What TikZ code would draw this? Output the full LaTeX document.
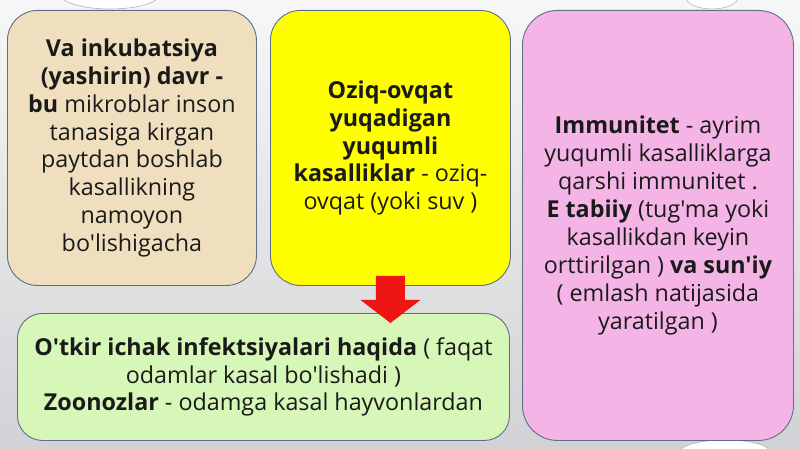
\documentclass[tikz,border=0pt]{standalone}
\usepackage{fontspec}
\setmainfont{Open Sans}[Ligatures=TeXOff]
\definecolor{beigefill}{HTML}{F0DFBE}
\definecolor{yellowfill}{HTML}{FFFF00}
\definecolor{pinkfill}{HTML}{F5B4E6}
\definecolor{greenfill}{HTML}{D6F7B8}
\definecolor{boxline}{HTML}{5E6E84}
\definecolor{txt}{HTML}{1A1A1A}
\definecolor{arrowred}{HTML}{EE1515}
\definecolor{bgtop}{HTML}{F7F7F8}
\definecolor{bgbot}{HTML}{D2D2D6}
\begin{document}
\begin{tikzpicture}[x=1pt,y=-1pt,
  card/.style={draw=boxline, line width=0.9pt, align=center, text=txt,
    font=\fontsize{23.3}{27.9}\selectfont, inner sep=0pt, anchor=north west},
  blob/.style={fill=white, draw=gray!60, line width=0.6pt}]
\useasboundingbox (0,0) rectangle (800,449);
\shade[top color=bgtop, bottom color=bgbot] (0,0) rectangle (800,449);
% background decorations
\path[blob] (110,-6) ellipse [x radius=50, y radius=15];
\path[blob] (712,-3) ellipse [x radius=26, y radius=12];
\path[blob] (725,452) ellipse [x radius=45, y radius=12];
% cards
\node[card, fill=beigefill, rounded corners=30pt, minimum width=249pt, minimum height=275pt] (inc) at (7,10)
 {\textbf{Va inkubatsiya}\\ \textbf{(yashirin) davr -}\\ \textbf{bu} mikroblar inson\\ tanasiga kirgan\\ paytdan boshlab\\ kasallikning\\ namoyon\\ bo'lishigacha};
\node[card, fill=yellowfill, rounded corners=30pt, minimum width=240pt, minimum height=275pt] (food) at (270,10)
 {\textbf{Oziq-ovqat}\\ \textbf{yuqadigan}\\ \textbf{yuqumli}\\ \textbf{kasalliklar} - oziq-\\ ovqat (yoki suv )};
\node[card, fill=pinkfill, rounded corners=35pt, minimum width=271pt, minimum height=430pt] (imm) at (522,10)
 {\textbf{Immunitet} - ayrim\\ yuqumli kasalliklarga\\ qarshi immunitet .\\ \textbf{E tabiiy} (tug'ma yoki\\ kasallikdan keyin\\ orttirilgan ) \textbf{va sun'iy}\\ ( emlash natijasida\\ yaratilgan )};
\node[card, fill=greenfill, rounded corners=25pt, minimum width=492pt, minimum height=127pt] (int) at (17,313)
 {\textbf{O'tkir ichak infektsiyalari haqida} ( faqat\\ odamlar kasal bo'lishadi )\\ \textbf{Zoonozlar} - odamga kasal hayvonlardan};
% block arrow from food to int
\coordinate (atop) at ([yshift=10pt]food.south);
\coordinate (atip) at ([yshift=-10pt]int.north -| food.south);
\fill[arrowred] ([xshift=-14.5pt]atop) -- ([xshift=14.5pt]atop)
  -- ([xshift=14.5pt,yshift=-24pt]atop) -- ([xshift=30pt,yshift=-24pt]atop)
  -- (atip) -- ([xshift=-30pt,yshift=-24pt]atop) -- ([xshift=-14.5pt,yshift=-24pt]atop) -- cycle;
\end{tikzpicture}
\end{document}
